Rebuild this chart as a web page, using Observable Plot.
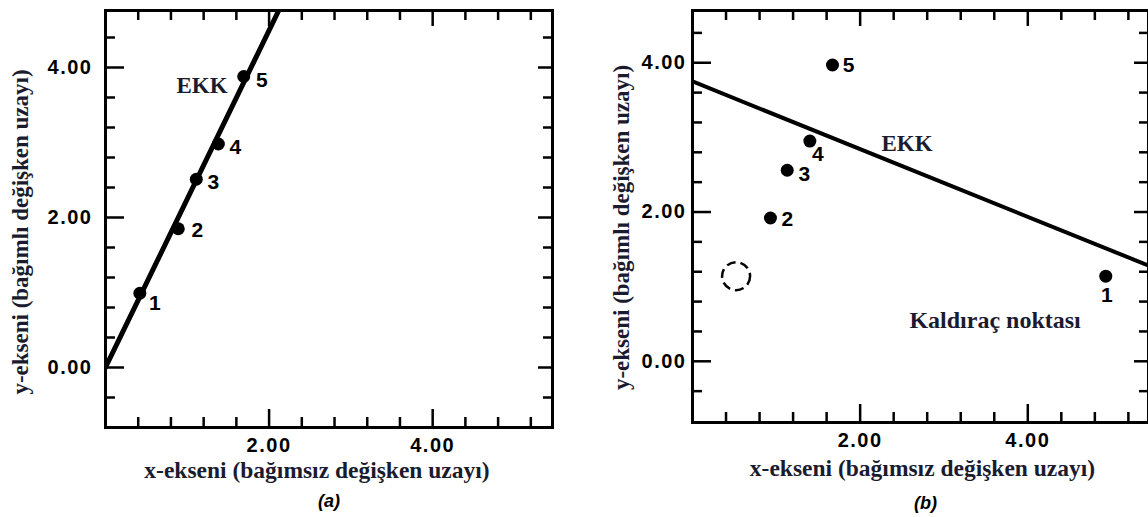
<!DOCTYPE html>
<html><head><meta charset="utf-8">
<script src="https://cdn.jsdelivr.net/npm/d3@7"></script>
<script src="https://cdn.jsdelivr.net/npm/@observablehq/plot@0.6"></script>
<style>
html,body{margin:0;padding:0;background:#fff;}
#wrap{position:relative;width:1148px;height:517px;overflow:hidden;background:#fff;}
#wrap svg{position:absolute;top:0;overflow:visible;}
g[aria-label="x-axis tick label"] text, g[aria-label="y-axis tick label"] text, g[aria-label="point-number"] text{letter-spacing:1.5px;}
</style></head><body><div id="wrap"></div>
<script>
// ---- data ----
const pointIds = ["1", "2", "3", "4", "5"];
// panel (a)
const xA = [0.42, 0.89, 1.11, 1.38, 1.69];
const yA = [0.99, 1.85, 2.51, 2.98, 3.88];
const fitAx = [0, 2.3];
const fitAy = [0, 5.17];
// panel (b): point 1 moved to a leverage position
const xB = [4.93, 0.93, 1.13, 1.40, 1.67];
const yB = [1.14, 1.92, 2.56, 2.95, 3.97];
const fitBx = [0, 5.6];
const fitBy = [3.75, 1.21];
const oldPointX = [0.52];
const oldPointY = [1.14];
// axes
const xTickLabels = [2, 4];
const yTickLabels = [0, 2, 4];
const xMinorTicks = [0.4, 0.8, 1.2, 1.6, 2.4, 2.8, 3.2, 3.6, 4.4, 4.8, 5.2];
const xMajorTicks = [2, 4];
const yMinorTicks = [-0.4, 0.4, 0.8, 1.2, 1.6, 2.4, 2.8, 3.2, 3.6, 4.4];
const yMajorTicks = [0, 2, 4];
// texts
const xLabel = "x-ekseni (bağımsız değişken uzayı)";
const yLabel = "y-ekseni (bağımlı değişken uzayı)";
const fitLabel = "EKK";
const leverLabel = "Kaldıraç noktası";
const captions = ["(a)", "(b)"];
// annotation anchors (data units)
const fitLabelA = {x: 1.18, y: 3.76};
const fitLabelB = {x: 2.56, y: 2.91};
const leverLabelB = {x: 3.61, y: 0.55};

// ---- styling ----
const SERIF = "'Liberation Serif','Times New Roman',serif";
const SANS = "'Liberation Sans',Arial,sans-serif";
const INK = "#1b1b2f";
const offsetsA = [[15, 10], [19, 2], [17, 3], [17, 3], [18, 4]];
const offsetsB = [[1, 19], [17, 1], [17, 4], [8, 13], [16, 0]];

function panel(cfg) {
  const innerW = cfg.width - cfg.marginLeft - cfg.marginRight;
  const innerH = cfg.height - cfg.marginTop - cfg.marginBottom;
  const pts = pointIds.map((id, i) => ({id, x: cfg.xs[i], y: cfg.ys[i], i}));
  const fit = cfg.fitX.map((x, i) => ({x, y: cfg.fitY[i]}));
  const marks = [
    Plot.line(fit, {x: "x", y: "y", stroke: "black", strokeWidth: cfg.lineW, clip: true}),
    Plot.dot(pts, {x: "x", y: "y", r: 6.5, fill: "black", stroke: "none"}),
    ...pts.map((p, i) => Plot.text([p], {x: "x", y: "y", text: "id", dx: cfg.offsets[i][0], dy: cfg.offsets[i][1],
      fontFamily: SANS, fontWeight: "bold", fontSize: 21, fill: "black", textAnchor: "middle", lineAnchor: "middle", ariaLabel: "point-number"})),
    // inward ticks, bottom
    Plot.tickX(xMinorTicks, {x: d => d, insetTop: innerH - 10, stroke: "black", strokeWidth: 2.5}),
    Plot.tickX(xMajorTicks, {x: d => d, insetTop: innerH - 18, stroke: "black", strokeWidth: 2.5}),
    // top
    Plot.tickX(xMinorTicks, {x: d => d, insetBottom: innerH - 10, stroke: "black", strokeWidth: 2.5}),
    Plot.tickX(xMajorTicks, {x: d => d, insetBottom: innerH - 16, stroke: "black", strokeWidth: 2.5}),
    // left
    Plot.tickY(yMinorTicks, {y: d => d, insetRight: innerW - 10, stroke: "black", strokeWidth: 2.5}),
    Plot.tickY(yMajorTicks, {y: d => d, insetRight: innerW - 19, stroke: "black", strokeWidth: 2.5}),
    // right
    Plot.tickY(yMinorTicks, {y: d => d, insetLeft: innerW - 9, stroke: "black", strokeWidth: 2.5}),
    Plot.tickY(yMajorTicks, {y: d => d, insetLeft: innerW - 14, stroke: "black", strokeWidth: 2.5}),
    Plot.frame({stroke: "black", strokeWidth: 3}),
    Plot.axisX(xTickLabels, {tickSize: 0, tickPadding: cfg.xPad, tickFormat: d => d.toFixed(2), label: null,
      fontFamily: SANS, fontWeight: "bold", fontSize: 20, fill: "black"}),
    Plot.axisY(yTickLabels, {tickSize: 0, tickPadding: cfg.yPad, tickFormat: d => d.toFixed(2), label: null,
      fontFamily: SANS, fontWeight: "bold", fontSize: 20, fill: "black"}),
    Plot.text([xLabel], {frameAnchor: "bottom", dx: cfg.xLabDx, dy: cfg.xLabDy, lineAnchor: "middle",
      fontFamily: SERIF, fontWeight: "bold", fontSize: 23.5, fill: INK}),
    Plot.text([yLabel], {frameAnchor: "left", rotate: -90, dx: cfg.yLabDx, dy: cfg.yLabDy, lineAnchor: "middle", textAnchor: "middle",
      fontFamily: SERIF, fontWeight: "bold", fontSize: 23, fill: INK}),
    Plot.text([cfg.caption], {frameAnchor: "bottom", dx: cfg.capDx, dy: cfg.capDy, lineAnchor: "middle",
      fontFamily: SANS, fontWeight: "bold", fontStyle: "italic", fontSize: 18, fill: "black"}),
    Plot.text([cfg.fitLab], {x: "x", y: "y", text: () => fitLabel, lineAnchor: "middle",
      fontFamily: SERIF, fontWeight: "bold", fontSize: 23, fill: INK}),
    ...(cfg.extra || [])
  ];
  const svg = Plot.plot({
    width: cfg.width, height: cfg.height,
    marginLeft: cfg.marginLeft, marginRight: cfg.marginRight, marginTop: cfg.marginTop, marginBottom: cfg.marginBottom,
    x: {domain: cfg.xDomain, axis: null},
    y: {domain: cfg.yDomain, axis: null},
    style: {background: "transparent", overflow: "visible"},
    marks
  });
  svg.style.left = cfg.left + "px";
  return svg;
}

const wrap = document.getElementById("wrap");
wrap.appendChild(panel({
  left: 0, width: 560, height: 517, marginLeft: 105, marginRight: 8, marginTop: 10, marginBottom: 90,
  xDomain: [0, 5.465], yDomain: [-0.8, 4.76],
  xs: xA, ys: yA, fitX: fitAx, fitY: fitAy, lineW: 5, offsets: offsetsA,
  xPad: 10, yPad: 13, xLabDx: -12, xLabDy: 43, yLabDx: -85, yLabDy: 13,
  caption: captions[0], capDx: 0, capDy: 74, fitLab: fitLabelA
}));
wrap.appendChild(panel({
  left: 576, width: 572, height: 517, marginLeft: 116, marginRight: 0, marginTop: 10, marginBottom: 95,
  xDomain: [0, 5.44], yDomain: [-0.82, 4.70],
  xs: xB, ys: yB, fitX: fitBx, fitY: fitBy, lineW: 4, offsets: offsetsB,
  xPad: 10, yPad: 6, xLabDx: 2, xLabDy: 46, yLabDx: -71, yLabDy: 11,
  caption: captions[1], capDx: 5, capDy: 81, fitLab: fitLabelB,
  extra: [
    Plot.dot(oldPointX.map((x, i) => ({x, y: oldPointY[i]})), {x: "x", y: "y", r: 14, fill: "none", stroke: "black", strokeWidth: 2.5, strokeDasharray: "9,5"}),
    Plot.text([leverLabelB], {x: "x", y: "y", text: () => leverLabel, lineAnchor: "middle",
      fontFamily: SERIF, fontWeight: "bold", fontSize: 24, fill: INK})
  ]
}));
</script></body></html>
